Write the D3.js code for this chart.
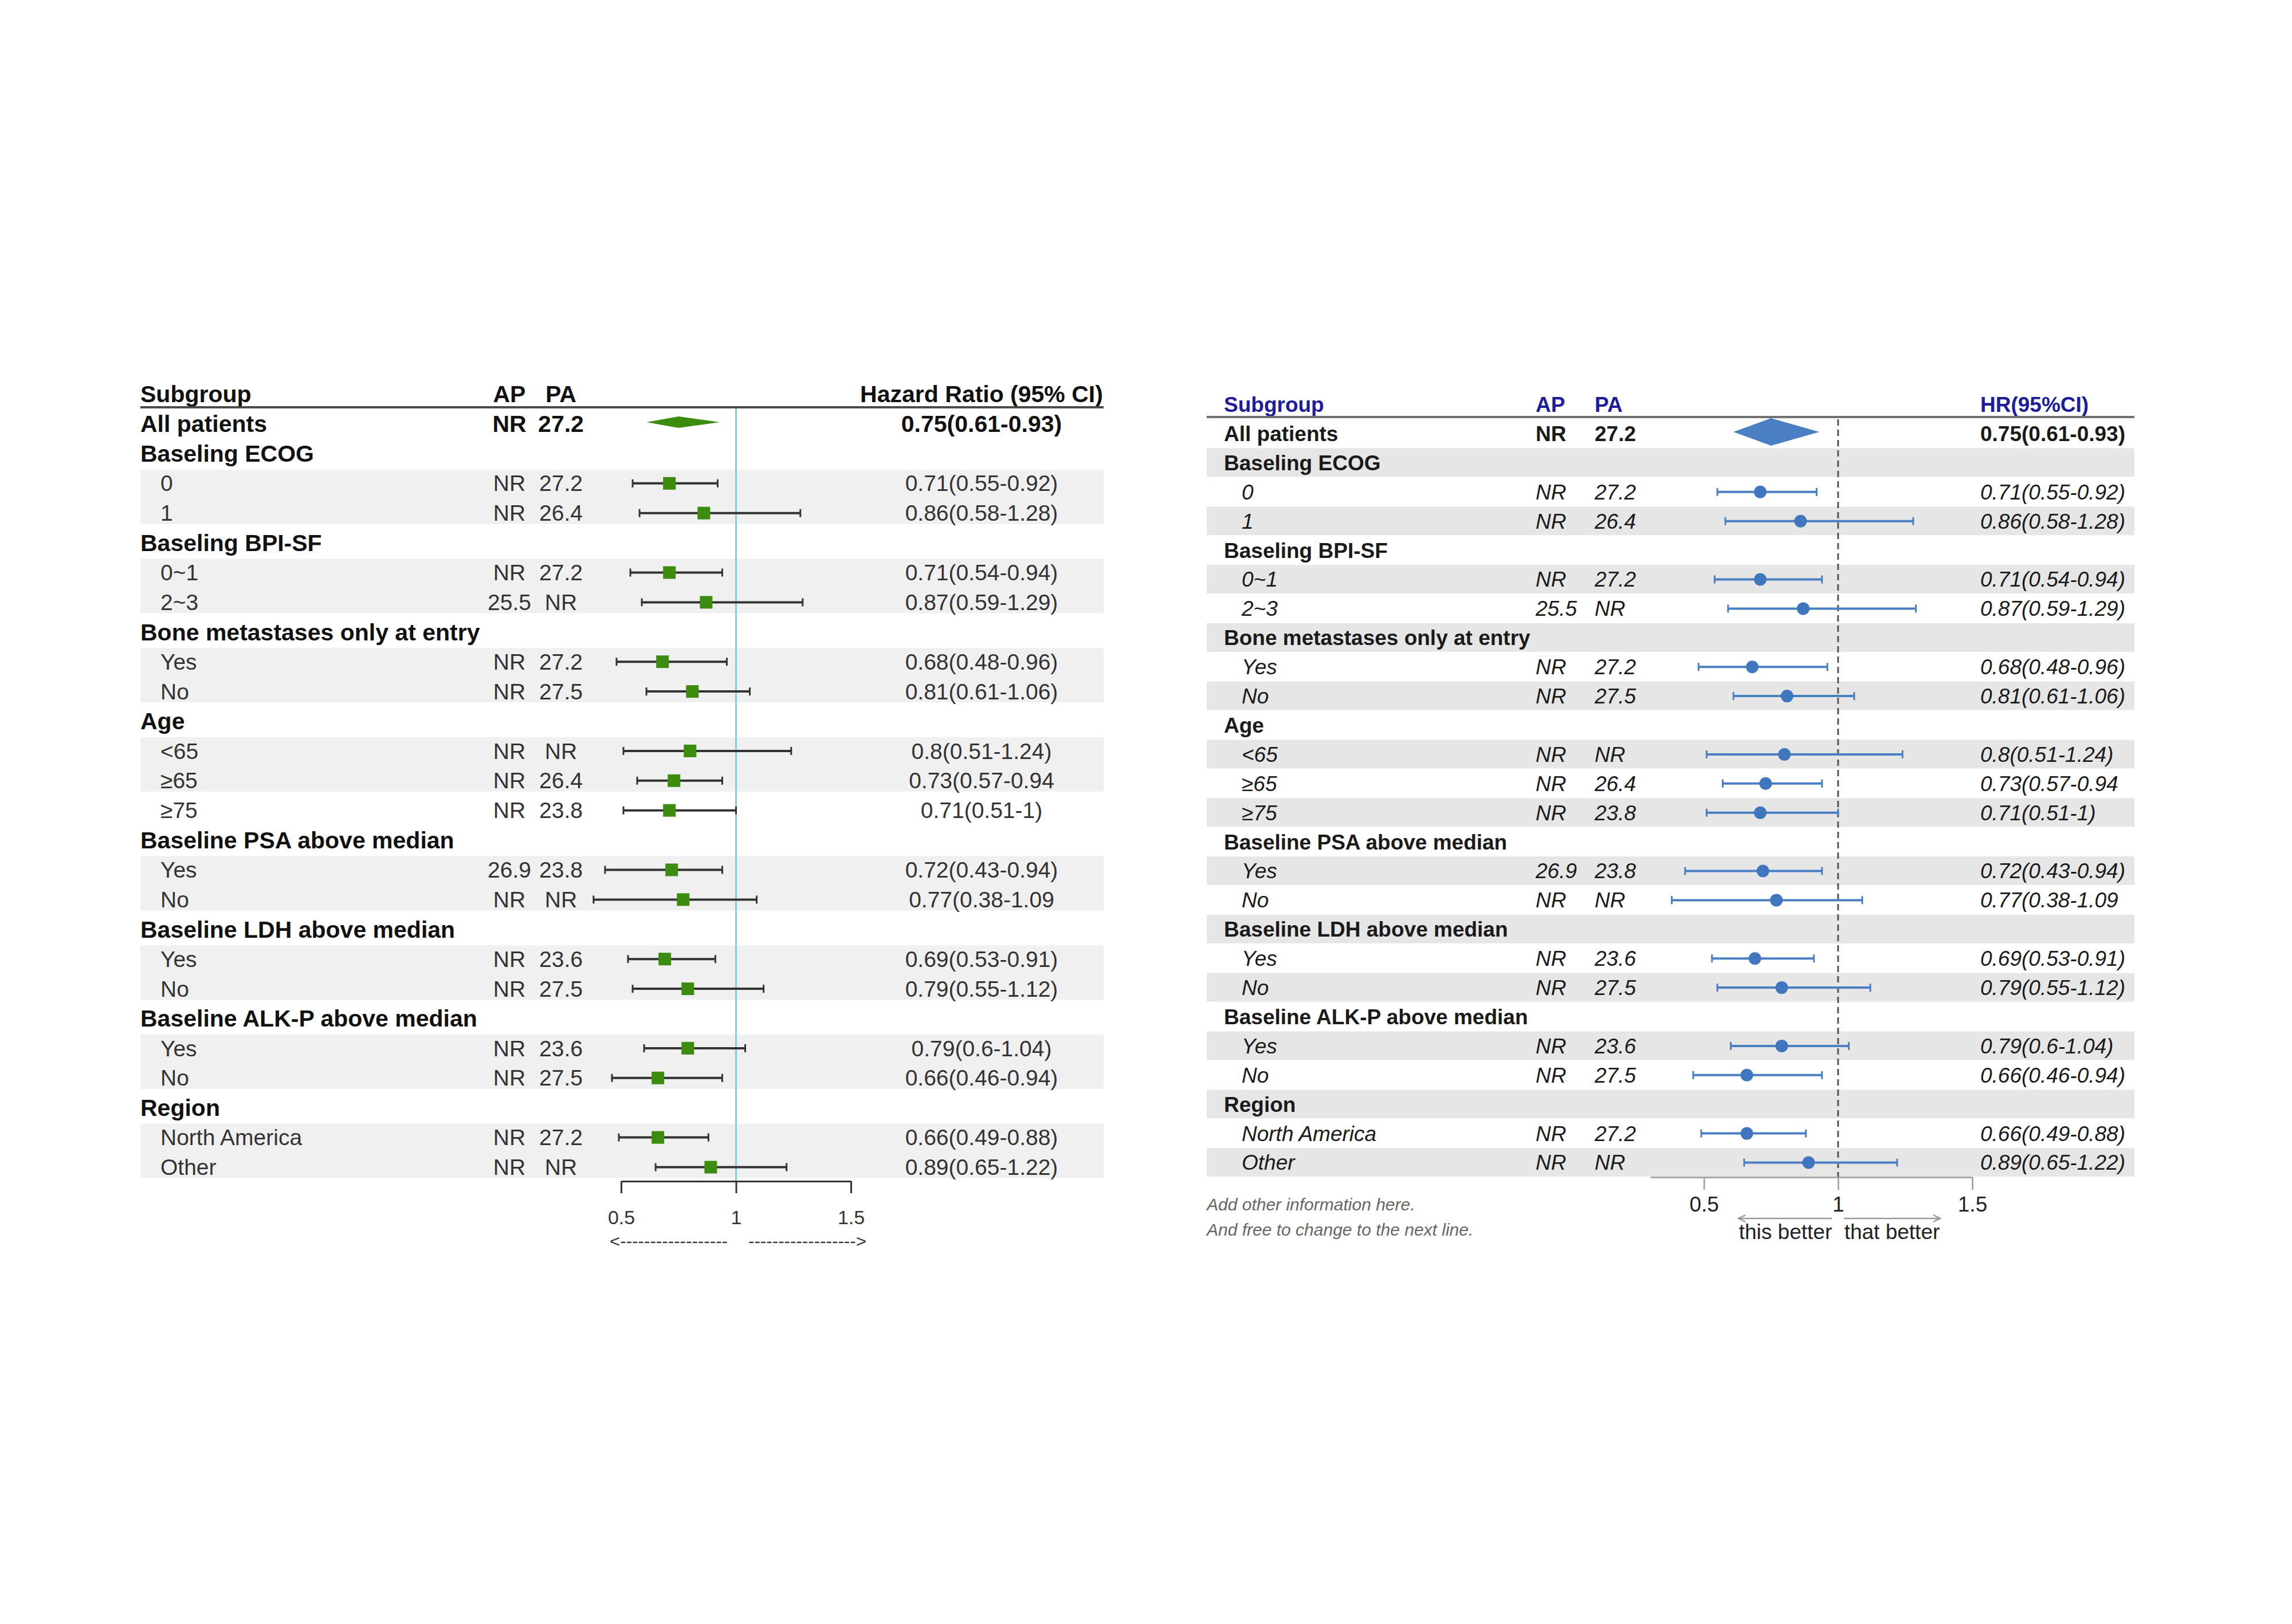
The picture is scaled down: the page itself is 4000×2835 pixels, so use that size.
<!DOCTYPE html>
<html><head><meta charset="utf-8">
<script src="https://cdn.jsdelivr.net/npm/d3@7/dist/d3.min.js"></script>
<style>body{margin:0;background:#fff}</style>
</head><body>
<svg id="c" width="4000" height="2835" xmlns="http://www.w3.org/2000/svg"></svg>
<script>
// ---------------- DATA ----------------
const subgroups = ["All patients","Baseling ECOG","0","1","Baseling BPI-SF","0~1","2~3",
  "Bone metastases only at entry","Yes","No","Age","<65","≥65","≥75",
  "Baseline PSA above median","Yes","No","Baseline LDH above median","Yes","No",
  "Baseline ALK-P above median","Yes","No","Region","North America","Other"];
const rowKind = ["all","group","item","item","group","item","item","group","item","item","group","item","item","item",
  "group","item","item","group","item","item","group","item","item","group","item","item"];
const apMedian = ["NR","","NR","NR","","NR","25.5","","NR","NR","","NR","NR","NR","","26.9","NR","","NR","NR","","NR","NR","","NR","NR"];
const paMedian = ["27.2","","27.2","26.4","","27.2","NR","","27.2","27.5","","NR","26.4","23.8","","23.8","NR","","23.6","27.5","","23.6","27.5","","27.2","NR"];
const hrValues = [0.75,null,0.71,0.86,null,0.71,0.87,null,0.68,0.81,null,0.8,0.73,0.71,null,0.72,0.77,null,0.69,0.79,null,0.79,0.66,null,0.66,0.89];
const ciLower  = [0.61,null,0.55,0.58,null,0.54,0.59,null,0.48,0.61,null,0.51,0.57,0.51,null,0.43,0.38,null,0.53,0.55,null,0.6,0.46,null,0.49,0.65];
const ciUpper  = [0.93,null,0.92,1.28,null,0.94,1.29,null,0.96,1.06,null,1.24,0.94,1,null,0.94,1.09,null,0.91,1.12,null,1.04,0.94,null,0.88,1.22];
const hrLabels = ["0.75(0.61-0.93)","","0.71(0.55-0.92)","0.86(0.58-1.28)","","0.71(0.54-0.94)","0.87(0.59-1.29)","",
  "0.68(0.48-0.96)","0.81(0.61-1.06)","","0.8(0.51-1.24)","0.73(0.57-0.94","0.71(0.51-1)","",
  "0.72(0.43-0.94)","0.77(0.38-1.09","","0.69(0.53-0.91)","0.79(0.55-1.12)","","0.79(0.6-1.04)","0.66(0.46-0.94)","",
  "0.66(0.49-0.88)","0.89(0.65-1.22)"];
const leftShaded = [0,0,1,1,0,1,1,0,1,1,0,1,1,0,0,1,1,0,1,1,0,1,1,0,1,1];
const tickValues = [0.5, 1, 1.5];
const leftHeaders = ["Subgroup","AP","PA","Hazard Ratio (95% CI)"];
const rightHeaders = ["Subgroup","AP","PA","HR(95%CI)"];
const arrowLabels = ["this better","that better"];
const footnotes = ["Add other information here.","And free to change to the next line."];

// ---------------- DRAW ----------------
const FONT = "'Liberation Sans', Arial, Helvetica, sans-serif";
const svg = d3.select("#c");
svg.append("rect").attr("width",4000).attr("height",2835).attr("fill","#fff");
const n = subgroups.length;
const idx = d3.range(n);

// ===== LEFT PANEL =====
(function(){
  const g = svg.append("g");
  const rowY = i => 740 + 51.9*i;
  const x = d3.scaleLinear().domain([0.5,1.5]).range([1084,1485]);
  const X0 = 245, X1 = 1926, IND = 280, AP = 889, PA = 979, HRX = 1713;
  const fs = 39, fsB = 41;
  const runs = [];
  idx.forEach(i => {
    if (leftShaded[i]) {
      if (runs.length && runs[runs.length-1][1] === i-1) runs[runs.length-1][1] = i;
      else runs.push([i,i]);
    }
  });
  g.selectAll("rect.band").data(runs).join("rect").attr("class","band")
    .attr("x",X0).attr("width",X1-X0)
    .attr("y",d=>rowY(d[0])-24).attr("height",d=>rowY(d[1])-rowY(d[0])+43)
    .attr("fill","#f0f0f0");
  const hy = rowY(-1) + 0.35*fsB;
  g.append("text").attr("x",X0).attr("y",hy).text(leftHeaders[0]);
  g.append("text").attr("x",AP).attr("y",hy).attr("text-anchor","middle").text(leftHeaders[1]);
  g.append("text").attr("x",PA).attr("y",hy).attr("text-anchor","middle").text(leftHeaders[2]);
  g.append("text").attr("x",HRX).attr("y",hy).attr("text-anchor","middle").text(leftHeaders[3]);
  g.selectAll("text").attr("font-family",FONT).attr("font-size",fsB).attr("font-weight","bold").attr("fill","#111");
  g.append("line").attr("x1",X0).attr("x2",X1).attr("y1",711).attr("y2",711)
    .attr("stroke","#4a4a4a").attr("stroke-width",4);
  g.append("line").attr("x1",x(1)).attr("x2",x(1)).attr("y1",713).attr("y2",2062)
    .attr("stroke","#86cdd3").attr("stroke-width",3);
  const rows = g.append("g").attr("font-family",FONT);
  idx.forEach(i => {
    const k = rowKind[i], bold = k !== "item";
    const f = bold ? fsB : fs, y = rowY(i) + 0.35*f;
    const col = bold ? "#111" : "#333", w = bold ? "bold" : "normal";
    rows.append("text").attr("x", k==="item" ? IND : X0).attr("y",y).text(subgroups[i])
      .attr("font-size",f).attr("font-weight",w).attr("fill",col);
    if (k !== "group") {
      rows.append("text").attr("x",AP).attr("y",y).attr("text-anchor","middle").text(apMedian[i])
        .attr("font-size",f).attr("font-weight",w).attr("fill",col);
      rows.append("text").attr("x",PA).attr("y",y).attr("text-anchor","middle").text(paMedian[i])
        .attr("font-size",f).attr("font-weight",w).attr("fill",col);
      rows.append("text").attr("x",HRX).attr("y",y).attr("text-anchor","middle").text(hrLabels[i])
        .attr("font-size",f).attr("font-weight",w).attr("fill",col);
    }
  });
  const items = idx.filter(i => rowKind[i]==="item");
  g.selectAll("line.ci").data(items).join("line").attr("class","ci")
    .attr("x1",i=>x(ciLower[i])).attr("x2",i=>x(ciUpper[i])).attr("y1",i=>rowY(i)).attr("y2",i=>rowY(i))
    .attr("stroke","#333").attr("stroke-width",4);
  ["lo","hi"].forEach(s => {
    g.selectAll("line.cap"+s).data(items).join("line").attr("class","cap"+s)
      .attr("x1",i=>x(s==="lo"?ciLower[i]:ciUpper[i])).attr("x2",i=>x(s==="lo"?ciLower[i]:ciUpper[i]))
      .attr("y1",i=>rowY(i)-7).attr("y2",i=>rowY(i)+7)
      .attr("stroke","#333").attr("stroke-width",3);
  });
  g.selectAll("rect.pt").data(items).join("rect").attr("class","pt")
    .attr("x",i=>x(hrValues[i])-11).attr("y",i=>rowY(i)-11).attr("width",22).attr("height",22)
    .attr("fill","#3c8c10");
  idx.filter(i=>rowKind[i]==="all").forEach(i => {
    const cy = rowY(i) - 3;
    g.append("path").attr("d",`M${x(ciLower[i])},${cy}L${x(hrValues[i])},${cy-10}L${x(ciUpper[i])},${cy}L${x(hrValues[i])},${cy+10}Z`)
      .attr("fill","#3c8c10");
  });
  const ax = g.append("g").attr("transform","translate(0,2062)")
    .call(d3.axisBottom(x).tickValues(tickValues).tickSize(21).tickSizeOuter(0).tickFormat(d3.format("")));
  ax.select(".domain").attr("stroke","#333").attr("stroke-width",3);
  ax.selectAll(".tick line").attr("stroke","#333").attr("stroke-width",3);
  ax.selectAll(".tick text").attr("y",null).attr("dy",null).attr("transform","translate(0,75)")
    .attr("font-family",FONT).attr("font-size",34).attr("fill","#333");
  const ag = g.append("g").attr("font-family",FONT).attr("font-size",30).attr("fill","#333");
  ag.append("text").attr("x",1064).attr("y",2177).attr("textLength",206).attr("lengthAdjust","spacingAndGlyphs")
    .text("<" + "-".repeat(18));
  ag.append("text").attr("x",1306).attr("y",2177).attr("textLength",206).attr("lengthAdjust","spacingAndGlyphs")
    .text("-".repeat(18) + ">");
})();

// ===== RIGHT PANEL =====
(function(){
  const g = svg.append("g");
  const rowY = i => 757 + 50.9*i;
  const x = d3.scaleLinear().domain([0.3,1.5]).range([2880,3442]);
  const X0 = 2106, X1 = 3725, LBL = 2136, IND = 2167, AP = 2680, PA = 2783, HRX = 3456;
  const fs = 37;
  const blue = "#4a7fc3", navy = "#1d1d9b";
  g.selectAll("rect.band").data(idx.filter(i=>i%2===1)).join("rect").attr("class","band")
    .attr("x",X0).attr("width",X1-X0).attr("y",i=>rowY(i)-25.5).attr("height",50)
    .attr("fill","#e6e6e6");
  const hy = rowY(-1) + 0.35*fs;
  const hg = g.append("g").attr("font-family",FONT).attr("font-size",fs).attr("font-weight","bold").attr("fill",navy);
  [LBL,AP,PA,HRX].forEach((xx,j) => hg.append("text").attr("x",xx).attr("y",hy).text(rightHeaders[j]));
  g.append("line").attr("x1",X0).attr("x2",X1).attr("y1",728).attr("y2",728)
    .attr("stroke","#707070").attr("stroke-width",4);
  g.append("line").attr("x1",x(1)).attr("x2",x(1)).attr("y1",732).attr("y2",2055)
    .attr("stroke","#555").attr("stroke-width",3).attr("stroke-dasharray","11,7");
  const rows = g.append("g").attr("font-family",FONT).attr("font-size",fs).attr("fill","#1a1a1a");
  idx.forEach(i => {
    const k = rowKind[i], y = rowY(i) + 0.35*fs;
    const w = k==="item" ? "normal" : "bold", st = k==="item" ? "italic" : "normal";
    rows.append("text").attr("x", k==="item" ? IND : LBL).attr("y",y).text(subgroups[i])
      .attr("font-weight",w).attr("font-style",st);
    if (k !== "group") {
      [[AP,apMedian[i]],[PA,paMedian[i]],[HRX,hrLabels[i]]].forEach(([xx,t]) =>
        rows.append("text").attr("x",xx).attr("y",y).text(t).attr("font-weight",w).attr("font-style",st));
    }
  });
  const items = idx.filter(i => rowKind[i]==="item");
  g.selectAll("line.ci").data(items).join("line").attr("class","ci")
    .attr("x1",i=>x(ciLower[i])).attr("x2",i=>x(ciUpper[i])).attr("y1",i=>rowY(i)).attr("y2",i=>rowY(i))
    .attr("stroke",blue).attr("stroke-width",4);
  ["lo","hi"].forEach(s => {
    g.selectAll("line.cap"+s).data(items).join("line").attr("class","cap"+s)
      .attr("x1",i=>x(s==="lo"?ciLower[i]:ciUpper[i])).attr("x2",i=>x(s==="lo"?ciLower[i]:ciUpper[i]))
      .attr("y1",i=>rowY(i)-7).attr("y2",i=>rowY(i)+7)
      .attr("stroke",blue).attr("stroke-width",3);
  });
  g.selectAll("circle.pt").data(items).join("circle").attr("class","pt")
    .attr("cx",i=>x(hrValues[i])).attr("cy",i=>rowY(i)).attr("r",11).attr("fill","#3f76bd");
  idx.filter(i=>rowKind[i]==="all").forEach(i => {
    const cy = rowY(i) - 3;
    g.append("path").attr("d",`M${x(ciLower[i])},${cy}L${x(hrValues[i])},${cy-24}L${x(ciUpper[i])},${cy}L${x(hrValues[i])},${cy+24}Z`)
      .attr("fill","#4a7fc3");
  });
  const ax = g.append("g").attr("transform","translate(0,2055)")
    .call(d3.axisBottom(x).tickValues(tickValues).tickSize(22).tickSizeOuter(0).tickFormat(d3.format("")));
  ax.select(".domain").attr("stroke","#9a9a9a").attr("stroke-width",2.5);
  ax.selectAll(".tick line").attr("stroke","#9a9a9a").attr("stroke-width",2.5);
  ax.selectAll(".tick text").attr("y",null).attr("dy",null).attr("transform","translate(0,60)")
    .attr("font-family",FONT).attr("font-size",37).attr("fill","#222");
  const ay = 2127;
  const arr = g.append("g").attr("stroke","#9a9a9a").attr("stroke-width",2.5).attr("fill","none");
  arr.append("line").attr("x1",3034).attr("x2",3197).attr("y1",ay).attr("y2",ay);
  arr.append("path").attr("d",`M3046,${ay-6}L3034,${ay}L3046,${ay+6}`);
  arr.append("line").attr("x1",3218).attr("x2",3386).attr("y1",ay).attr("y2",ay);
  arr.append("path").attr("d",`M3374,${ay-6}L3386,${ay}L3374,${ay+6}`);
  const lab = g.append("g").attr("font-family",FONT).attr("font-size",37).attr("fill","#222").attr("text-anchor","middle");
  lab.append("text").attr("x",3116).attr("y",2163).text(arrowLabels[0]);
  lab.append("text").attr("x",3302).attr("y",2163).text(arrowLabels[1]);
  const fn = g.append("g").attr("font-family",FONT).attr("font-size",30).attr("font-style","italic").attr("fill","#666");
  fn.append("text").attr("x",X0).attr("y",2113).text(footnotes[0]);
  fn.append("text").attr("x",X0).attr("y",2157).text(footnotes[1]);
})();
</script>
</body></html>
